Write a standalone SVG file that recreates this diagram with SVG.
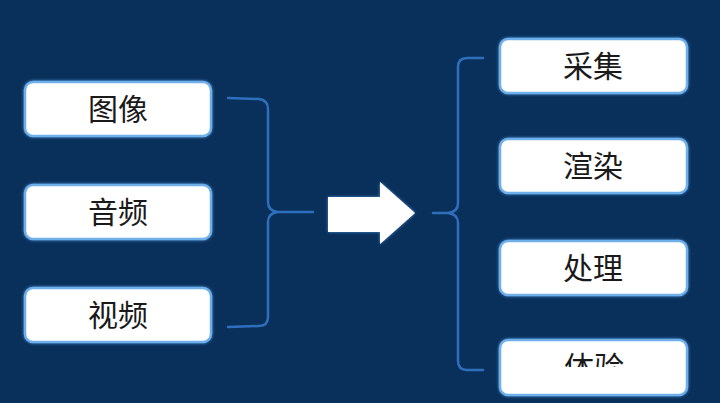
<svg xmlns="http://www.w3.org/2000/svg" width="720" height="403" viewBox="0 0 720 403">
<defs>
<style>
.box{fill:#ffffff;stroke:#6fb0ea;stroke-width:2.5}
.lbl{font-family:"Noto Sans CJK SC","Liberation Sans",sans-serif;font-size:30px;fill:#1a1a1a;text-anchor:middle}
.br{fill:none;stroke:#2e6fbd;stroke-width:2.5;stroke-linecap:round;stroke-linejoin:round}
</style>
<filter id="glow" x="-10%" y="-20%" width="120%" height="140%">
<feGaussianBlur in="SourceAlpha" stdDeviation="2"/>
<feFlood flood-color="#4a90d8"/>
<feComposite operator="in" in2="SourceAlpha"/>
<feGaussianBlur stdDeviation="1.5" result="g"/>
<feMerge><feMergeNode in="g"/><feMergeNode in="SourceGraphic"/></feMerge>
</filter>
<clipPath id="clip4"><rect x="500" y="340" width="188" height="27"/></clipPath>
</defs>
<rect width="720" height="403" fill="#09305a"/>
<g id="connectors">
<path class="br" d="M228,98 L259,99 Q268,100 268,109 L268,202 Q268,211 278,212 L313,212 M278,212 Q268,213 268,222 L268,317 Q268,326 259,326 L228,327"/>
<path class="br" d="M483,58 L467,58 Q458,58 458,67 L458,203 Q458,212 448,213 L433,213 M448,213 Q458,214 458,223 L458,361 Q458,370 467,370 L483,370"/>
</g>
<g id="arrow" filter="url(#glow)">
<polygon points="328,197 380,197 380,182 415,213 380,244 380,232 328,232" fill="#ffffff"/>
</g>
<g id="n-tuxiang"><rect class="box" x="25" y="82" width="186" height="54" rx="8" filter="url(#glow)"/><text class="lbl" x="118" y="120">图像</text></g>
<g id="n-yinpin"><rect class="box" x="25" y="185" width="186" height="54" rx="8" filter="url(#glow)"/><text class="lbl" x="118" y="223">音频</text></g>
<g id="n-shipin"><rect class="box" x="25" y="288" width="186" height="54" rx="8" filter="url(#glow)"/><text class="lbl" x="118" y="326">视频</text></g>
<g id="n-caiji"><rect class="box" x="500" y="39" width="187" height="54" rx="8" filter="url(#glow)"/><text class="lbl" x="593" y="77">采集</text></g>
<g id="n-xuanran"><rect class="box" x="500" y="139" width="187" height="54" rx="8" filter="url(#glow)"/><text class="lbl" x="593" y="177">渲染</text></g>
<g id="n-chuli"><rect class="box" x="500" y="241" width="187" height="54" rx="8" filter="url(#glow)"/><text class="lbl" x="593" y="279">处理</text></g>
<g id="n-tiyan"><rect class="box" x="500" y="340" width="187" height="55" rx="8" filter="url(#glow)"/><text class="lbl" x="594" y="378" clip-path="url(#clip4)">体验</text></g>
</svg>
